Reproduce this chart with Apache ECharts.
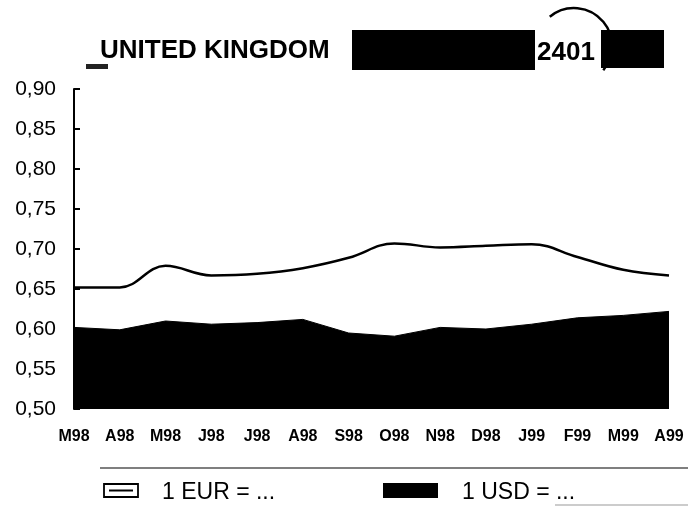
<!DOCTYPE html>
<html>
<head>
<meta charset="utf-8">
<script src="https://cdn.jsdelivr.net/npm/echarts@6/dist/echarts.min.js"></script>
<style>
html,body{margin:0;padding:0;background:#fff;}
#chart{width:699px;height:506px;}
</style>
</head>
<body>
<div id="chart"></div>
<script>
var categories = ['M98','A98','M98','J98','J98','A98','S98','O98','N98','D98','J99','F99','M99','A99'];
var eurValues = [0.652,0.652,0.679,0.667,0.669,0.676,0.689,0.707,0.702,0.704,0.706,0.690,0.674,0.667];
var usdValues = [0.602,0.599,0.610,0.606,0.608,0.612,0.595,0.591,0.602,0.600,0.606,0.614,0.617,0.622];
var titleText = 'UNITED KINGDOM';
var codeText = '2401';
var eurLabel = '1 EUR = ...';
var usdLabel = '1 USD = ...';

var FONT = '"Liberation Sans", Arial, Helvetica, sans-serif';
var chart = echarts.init(document.getElementById('chart'), null, {renderer:'canvas'});
chart.setOption({
  backgroundColor:'#fff',
  animation:false,
  grid:{left:74,right:30,top:89,bottom:97},
  xAxis:{
    type:'category',
    data:categories,
    boundaryGap:false,
    axisLine:{show:false},
    axisTick:{show:false},
    splitLine:{show:false},
    axisLabel:{color:'#000',fontFamily:FONT,fontWeight:'bold',fontSize:16,margin:20,interval:0}
  },
  yAxis:{
    type:'value',
    min:0.5,max:0.9,interval:0.05,
    axisLine:{show:true,lineStyle:{color:'#000',width:2}},
    axisTick:{show:true,inside:true,length:6,lineStyle:{color:'#000',width:2}},
    splitLine:{show:false},
    axisLabel:{color:'#000',fontFamily:FONT,fontSize:21,margin:18,
      formatter:function(v){return v.toFixed(2).replace('.',',');}}
  },
  series:[
    {
      name:usdLabel,type:'line',data:usdValues,smooth:false,symbol:'none',
      lineStyle:{color:'#000',width:1},
      areaStyle:{color:'#000',opacity:1,origin:'start'},
      z:2
    },
    {
      name:eurLabel,type:'line',data:eurValues,smooth:0.4,symbol:'none',
      lineStyle:{color:'#000',width:2.5},
      z:3
    }
  ],
  graphic:[
    {type:'rect',shape:{x:86,y:64,width:22,height:5},style:{fill:'#222'}},
    {type:'text',left:100,top:38,style:{text:titleText,font:'bold 26px '+FONT,fill:'#000'}},
    {type:'rect',shape:{x:352,y:30,width:183,height:40},style:{fill:'#000'}},
    {type:'text',left:537,top:40,style:{text:codeText,font:'bold 26px '+FONT,fill:'#000'}},
    {type:'rect',shape:{x:601,y:30,width:63,height:38},style:{fill:'#000'}},
    {type:'arc',shape:{cx:574,cy:46,r:38,startAngle:-Math.PI*0.72,endAngle:Math.PI*0.22},style:{stroke:'#000',lineWidth:2.5,fill:null}},
    {type:'line',shape:{x1:100,y1:468,x2:688,y2:468},style:{stroke:'#000',lineWidth:1.2}},
    {type:'line',shape:{x1:555,y1:505,x2:688,y2:505},style:{stroke:'#999',lineWidth:1}},
    {type:'rect',shape:{x:104,y:484,width:34,height:13},style:{fill:'#fff',stroke:'#000',lineWidth:1.8}},
    {type:'line',shape:{x1:109,y1:490.5,x2:133,y2:490.5},style:{stroke:'#000',lineWidth:2}},
    {type:'text',left:162,top:481,style:{text:eurLabel,font:'23px '+FONT,fill:'#000'}},
    {type:'rect',shape:{x:383,y:483,width:55,height:15},style:{fill:'#000'}},
    {type:'text',left:462,top:481,style:{text:usdLabel,font:'23px '+FONT,fill:'#000'}}
  ]
});
</script>
</body>
</html>
